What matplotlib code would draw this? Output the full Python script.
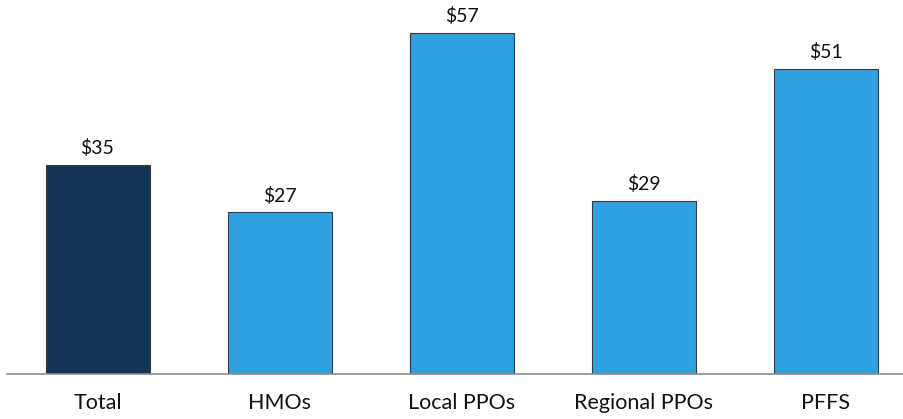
import matplotlib.pyplot as plt

categories = ["Total", "HMOs", "Local PPOs", "Regional PPOs", "PFFS"]
values = [35, 27, 57, 29, 51]
colors = ["#14345a", "#30a0e0", "#30a0e0", "#30a0e0", "#30a0e0"]

plt.rcParams["font.family"] = ["Lato", "DejaVu Sans"]

W, H = 904, 419
fig = plt.figure(figsize=(W / 100, H / 100), dpi=100)

# axes placed in pixel terms: baseline at y=374, first category centred at x=97.5
step = 182.0
left_px = 97.5 - step / 2
base_px = H - 374
px_per_unit = 341 / 57
ymax = 62
ax = fig.add_axes([left_px / W, base_px / H, 5 * step / W, ymax * px_per_unit / H])

x = range(len(categories))
bars = ax.bar(x, values, width=104 / step, color=colors, edgecolor="#3a3a3a", linewidth=0.8, zorder=2)
for b, v in zip(bars, values):
    ax.text(b.get_x() + b.get_width() / 2, v + 1.3, f"${v}", ha="center", va="bottom", fontsize=14, color="#111111")

ax.set_xlim(-0.5, 4.5)
ax.set_ylim(0, ymax)
ax.set_xticks(list(x))
ax.set_xticklabels(categories, fontsize=15.5, color="#111111")
ax.tick_params(axis="x", length=0, pad=14)
ax.set_yticks([])
for s in ["top", "right", "left"]:
    ax.spines[s].set_visible(False)
ax.spines["bottom"].set_color("#8c8c8c")
ax.spines["bottom"].set_linewidth(1.2)
ax.spines["bottom"].set_zorder(3)

fig.savefig("out.png", dpi=100)
